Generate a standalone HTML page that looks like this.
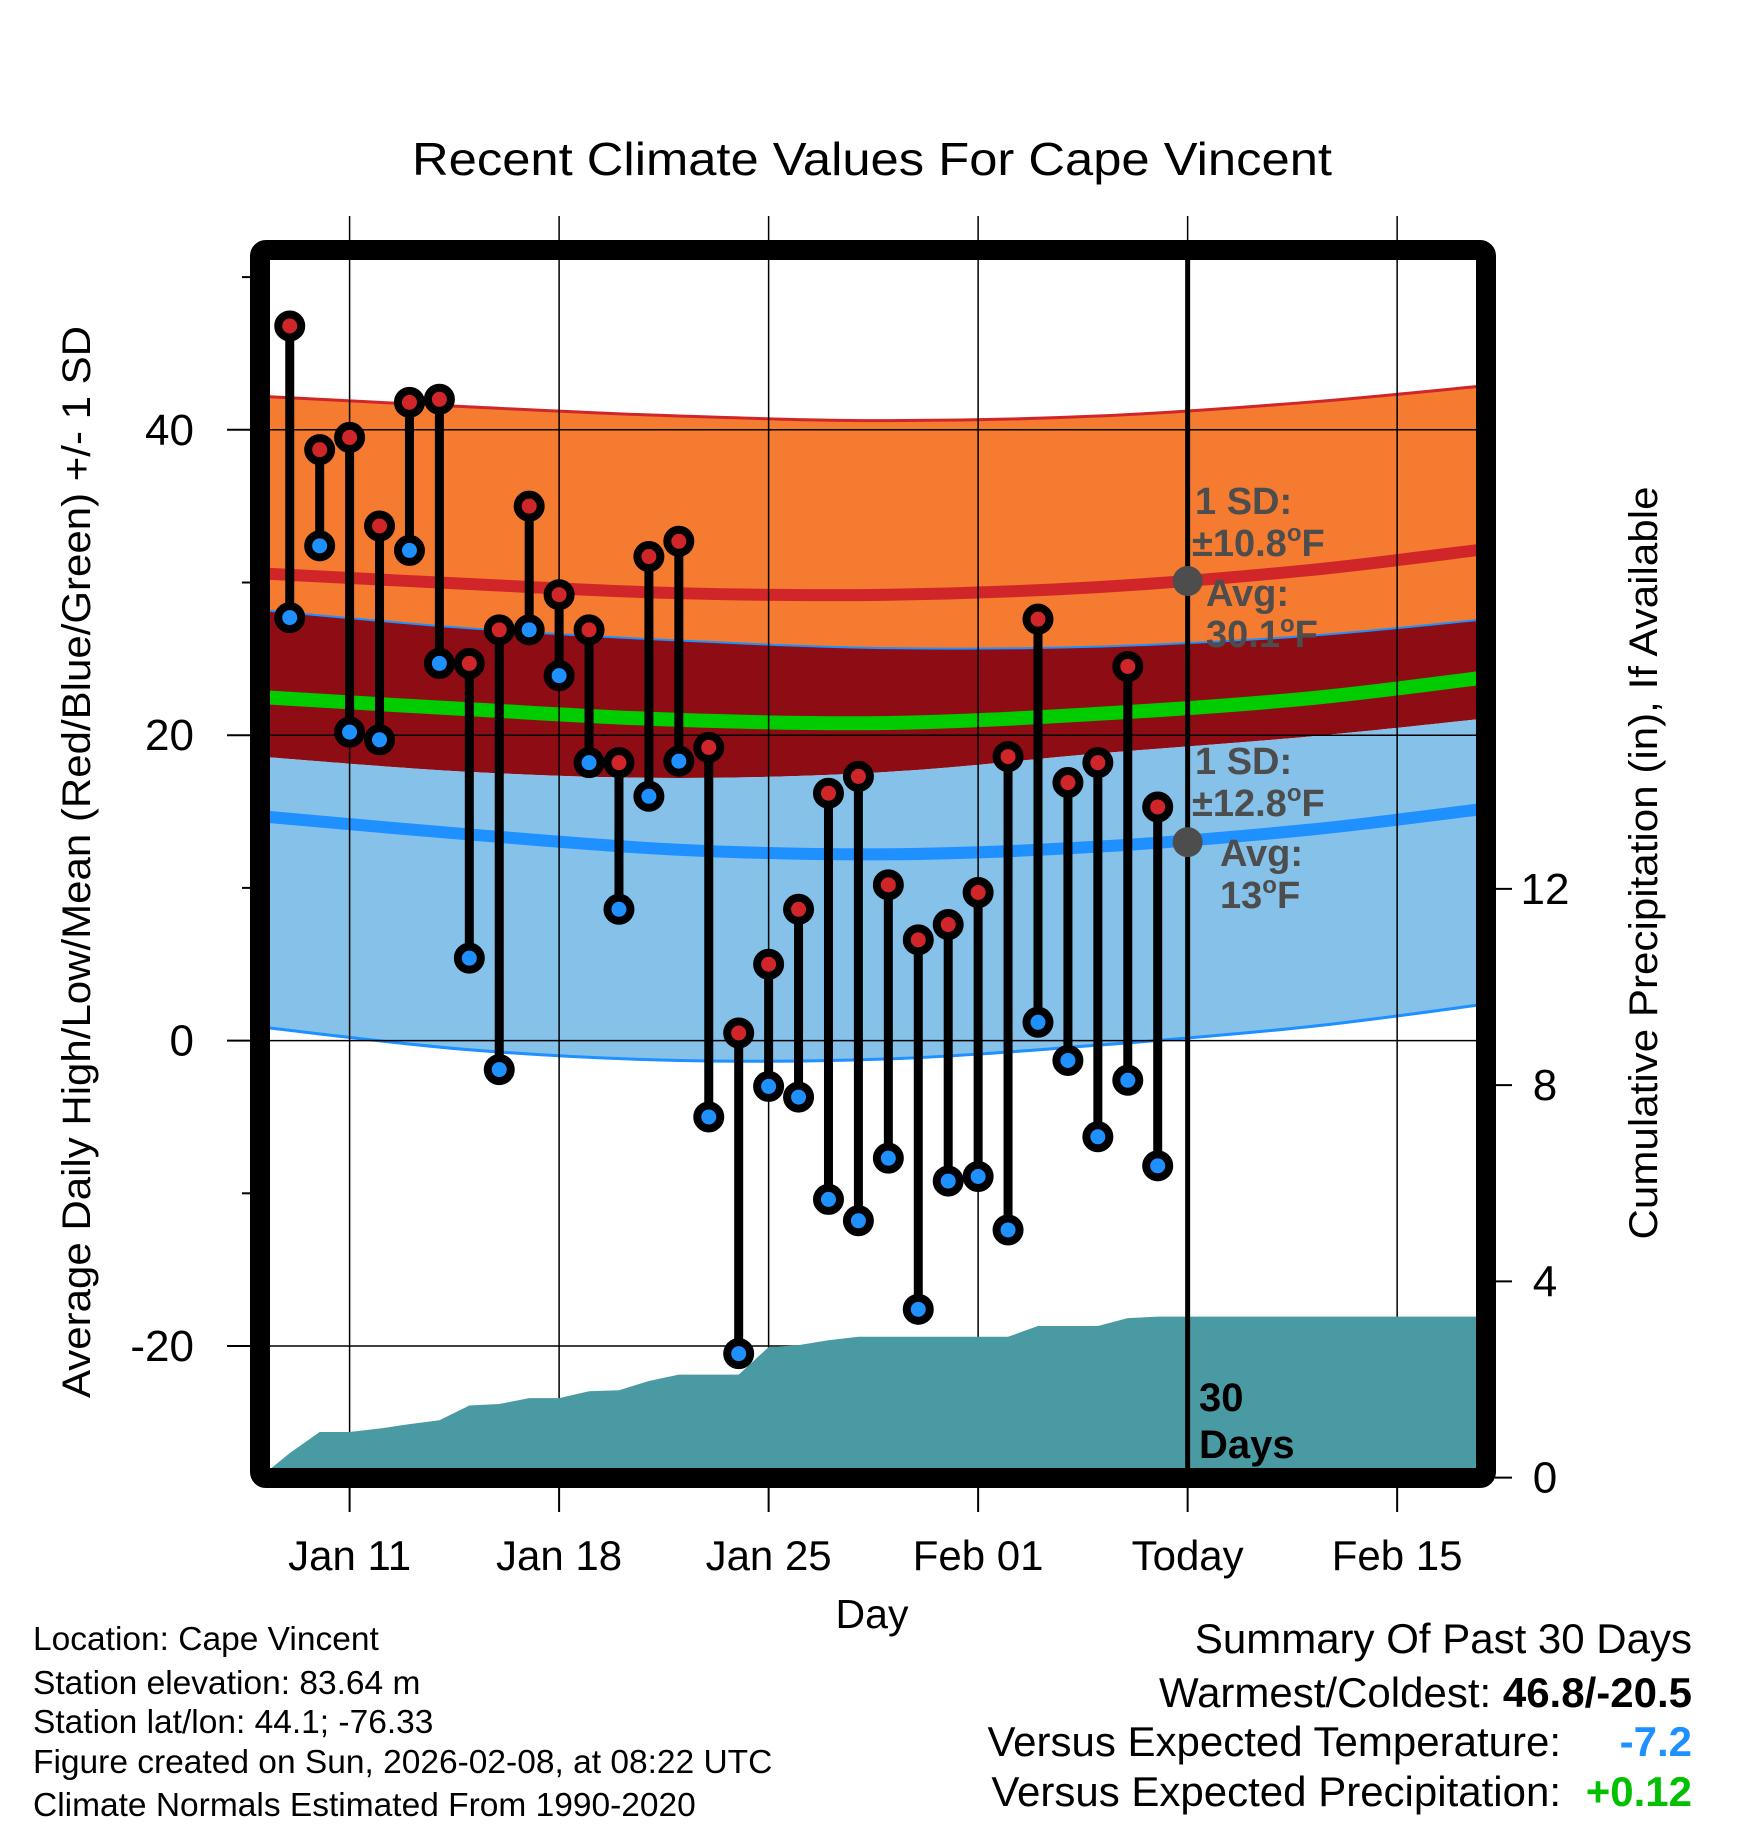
<!DOCTYPE html>
<html><head><meta charset="utf-8"><style>
html,body{margin:0;padding:0;background:#fff;}
svg{display:block;font-family:"Liberation Sans",sans-serif;}
</style></head><body>
<svg id="chart" width="1748" height="1828" viewBox="0 0 1748 1828" xmlns="http://www.w3.org/2000/svg">
<defs><clipPath id="plotclip"><rect x="270" y="260" width="1207" height="1208"/></clipPath></defs>
<text x="872" y="175" font-size="46" text-anchor="middle" textLength="920" lengthAdjust="spacingAndGlyphs">Recent Climate Values For Cape Vincent</text>
<g id="bands" clip-path="url(#plotclip)"></g>
<g id="grid"></g>
<g id="precip" clip-path="url(#plotclip)"></g>
<g id="marks"></g>
<g id="annot" font-weight="bold" fill="#4d4d4d" font-size="38">
<text x="1195" y="514">1 SD:</text>
<text x="1192" y="556">±10.8<tspan font-size="24" dy="-15">o</tspan><tspan dy="15">F</tspan></text>
<text x="1206" y="606">Avg:</text>
<text x="1206" y="647">30.1<tspan font-size="24" dy="-15">o</tspan><tspan dy="15">F</tspan></text>
<text x="1195" y="774">1 SD:</text>
<text x="1192" y="816">±12.8<tspan font-size="24" dy="-15">o</tspan><tspan dy="15">F</tspan></text>
<text x="1220" y="866">Avg:</text>
<text x="1220" y="908">13<tspan font-size="24" dy="-15">o</tspan><tspan dy="15">F</tspan></text>
<text x="1199" y="1411" fill="#000" font-size="40">30</text>
<text x="1199" y="1458" fill="#000" font-size="40">Days</text>
</g>
<rect x="260" y="250" width="1226" height="1228" rx="6" fill="none" stroke="#000" stroke-width="20"/>
<g id="axes"></g>
<text transform="translate(90,862) rotate(-90)" font-size="40" text-anchor="middle" textLength="1072" lengthAdjust="spacingAndGlyphs">Average Daily High/Low/Mean (Red/Blue/Green) +/- 1 SD</text>
<text transform="translate(1657,863) rotate(-90)" font-size="40" text-anchor="middle" textLength="753" lengthAdjust="spacingAndGlyphs">Cumulative Precipitation (in), If Available</text>
<text x="872" y="1628" font-size="41" text-anchor="middle">Day</text>
<g font-size="33.5">
<text x="33" y="1650">Location: Cape Vincent</text>
<text x="33" y="1694">Station elevation: 83.64 m</text>
<text x="33" y="1733">Station lat/lon: 44.1; -76.33</text>
<text x="33" y="1773">Figure created on Sun, 2026-02-08, at 08:22 UTC</text>
<text x="33" y="1816">Climate Normals Estimated From 1990-2020</text>
</g>
<g font-size="42" text-anchor="end">
<text x="1692" y="1653">Summary Of Past 30 Days</text>
<text x="1692" y="1707">Warmest/Coldest: <tspan font-weight="bold">46.8/-20.5</tspan></text>
<text x="1561" y="1756">Versus Expected Temperature:</text>
<text x="1692" y="1756" font-weight="bold" fill="#1e90ff">-7.2</text>
<text x="1561" y="1806">Versus Expected Precipitation:</text>
<text x="1692" y="1806" font-weight="bold" fill="#00c000">+0.12</text>
</g>
</svg>
<script>
// day offsets relative to Jan 11
const dayOffsets = [-2,-1,0,1,2,3,4,5,6,7,8,9,10,11,12,13,14,15,16,17,18,19,20,21,22,23,24,25,26,27];
const highs = [46.8,38.7,39.5,33.7,41.8,42.0,24.7,26.9,35.0,29.2,26.9,18.2,31.7,32.7,19.2,0.5,5.0,8.6,16.2,17.3,10.2,6.6,7.6,9.7,18.6,27.6,16.9,18.2,24.5,15.3];
const lows = [27.7,32.4,20.2,19.7,32.1,24.7,5.4,-1.9,26.9,23.9,18.2,8.6,16.0,18.3,-5.0,-20.5,-3.0,-3.7,-10.4,-11.8,-7.7,-17.6,-9.2,-8.9,-12.4,1.2,-1.3,-6.3,-2.6,-8.2];
// climatology nodes
const climDays = [-3,4,11,18,25,32,38];
const highUpper = [42.2,41.5,40.9,40.6,40.9,41.8,42.9];
const highAvg = [30.6,29.9,29.3,29.2,29.7,30.8,32.2];
const highLower = [28.2,27.0,26.2,25.7,25.8,26.5,27.6];
const meanTemp = [22.5,21.7,21.0,20.8,21.4,22.4,23.8];
const lowUpper = [18.6,17.6,17.2,17.6,18.8,19.9,21.1];
const lowAvg = [14.7,13.5,12.5,12.2,12.7,13.8,15.2];
const lowLower = [0.9,-0.6,-1.3,-1.2,-0.3,0.9,2.4];
// cumulative precipitation
const precipDays = [-3,-2,-1,0,1,2,3,4,5,6,7,8,9,10,11,12,13,14,15,16,17,18,19,20,21,22,23,24,25,26,27,38];
const precipVals = [0,0.5,0.93,0.93,1.0,1.09,1.17,1.47,1.5,1.62,1.62,1.76,1.78,1.97,2.1,2.1,2.1,2.66,2.7,2.8,2.87,2.87,2.87,2.87,2.87,2.87,3.09,3.09,3.09,3.25,3.28,3.28];
const yTicks = [-20,0,20,40];
const yMinor = [-10,10,30,50];
const y2Ticks = [0,4,8,12];
const xTickDays = [0,7,14,21,28,35];
const xTickLabels = ["Jan 11","Jan 18","Jan 25","Feb 01","Today","Feb 15"];
const todayDay = 28;
const annotDots = [30.1,13.0];

const NS="http://www.w3.org/2000/svg";
const X=d=>349.6+d*29.93;
const Y=t=>1040.6-t*15.27;
const YP=p=>1477.6-p*49.06;
function mk(tag,attrs,parent){const e=document.createElementNS(NS,tag);for(const k in attrs)e.setAttribute(k,attrs[k]);parent.appendChild(e);return e;}
function smooth(xs,ys){let pts=xs.map((x,i)=>[X(x),Y(ys[i])]);let d="";
 for(let i=0;i<pts.length-1;i++){const p0=pts[Math.max(0,i-1)],p1=pts[i],p2=pts[i+1],p3=pts[Math.min(pts.length-1,i+2)];
  if(i===0)d+="M"+p1[0]+","+p1[1];
  const c1=[p1[0]+(p2[0]-p0[0])/6,p1[1]+(p2[1]-p0[1])/6],c2=[p2[0]-(p3[0]-p1[0])/6,p2[1]-(p3[1]-p1[1])/6];
  d+=" C"+c1[0]+","+c1[1]+" "+c2[0]+","+c2[1]+" "+p2[0]+","+p2[1];}
 return d;}
function rev(xs,ys){return smooth(xs.slice().reverse(),ys.slice().reverse()).replace(/^M/," L");}
const bands=document.getElementById('bands');
function band(up,lo,fill,name){const p=mk('path',{d:smooth(climDays,up)+rev(climDays,lo)+" Z",fill:fill},bands);
 }
band(highUpper,highLower,'#f47b2f','high-sd-band');
band(highLower,lowUpper,'#8e0d14','mid-band');
band(lowUpper,lowLower,'#85c1e8','low-sd-band');
function line(vals,color,w,name){const p=mk('path',{d:smooth(climDays,vals),fill:'none',stroke:color,'stroke-width':w},bands);
 }
line(highUpper,'#d0262a',3,'high-upper-line');
line(highAvg,'#d0262a',12,'high-avg-line');
line(highLower,'#1e90ff',2,'high-lower-line');
line(meanTemp,'#00cc00',14,'mean-line');
line(lowAvg,'#1e90ff',12,'low-avg-line');
line(lowLower,'#1e90ff',3,'low-lower-line');

const grid=document.getElementById('grid');
xTickDays.forEach(d=>{const l=mk('line',{x1:X(d),x2:X(d),y1:216,y2:1468,stroke:'#000','stroke-width':1.5},grid);
 });
yTicks.forEach(t=>{const l=mk('line',{x1:270,x2:1477,y1:Y(t),y2:Y(t),stroke:'#000','stroke-width':1.5},grid);
 });

const precip=document.getElementById('precip');
let pd="M"+X(precipDays[0])+","+YP(0);
precipDays.forEach((d,i)=>{pd+=" L"+X(d)+","+YP(precipVals[i]);});
pd+=" L"+X(precipDays[precipDays.length-1])+","+YP(0)+" Z";
const pa=mk('path',{d:pd,fill:'#4a9aa3'},precip);



const marks=document.getElementById('marks');
const tl=mk('line',{x1:X(todayDay),x2:X(todayDay),y1:260,y2:1468,stroke:'#000','stroke-width':5},marks);


dayOffsets.forEach((d,i)=>{const s=mk('line',{x1:X(d),x2:X(d),y1:Y(highs[i]),y2:Y(lows[i]),stroke:'#000','stroke-width':9},marks);
 });
dayOffsets.forEach((d,i)=>{
 const a=mk('circle',{cx:X(d),cy:Y(highs[i]),r:11.5,fill:'#d0262a',stroke:'#000','stroke-width':8},marks);
 
 const b=mk('circle',{cx:X(d),cy:Y(lows[i]),r:11.5,fill:'#1e90ff',stroke:'#000','stroke-width':8},marks);
 });
annotDots.forEach(v=>{const c=mk('circle',{cx:X(todayDay),cy:Y(v),r:15,fill:'#4d4d4d'},marks);
 });

const axes=document.getElementById('axes');
yTicks.forEach(t=>{const l=mk('line',{x1:227,x2:251,y1:Y(t),y2:Y(t),stroke:'#000','stroke-width':2},axes);
 
 const tx=mk('text',{x:194,y:Y(t)+15,'font-size':44,'text-anchor':'end'},axes);tx.textContent=t;
 });
yMinor.forEach(t=>{const l=mk('line',{x1:242,x2:251,y1:Y(t),y2:Y(t),stroke:'#000','stroke-width':2},axes);
 });
y2Ticks.forEach(p=>{const l=mk('line',{x1:1495,x2:1512,y1:YP(p),y2:YP(p),stroke:'#000','stroke-width':2},axes);
 
 const tx=mk('text',{x:1545,y:YP(p)+15,'font-size':44,'text-anchor':'middle'},axes);tx.textContent=p;
 });
xTickDays.forEach((d,i)=>{
 const l=mk('line',{x1:X(d),x2:X(d),y1:1486,y2:1512,stroke:'#000','stroke-width':2},axes);
 
 const tx=mk('text',{x:X(d),y:1570,'font-size':42,'text-anchor':'middle'},axes);tx.textContent=xTickLabels[i];
 });
</script>
</body></html>
